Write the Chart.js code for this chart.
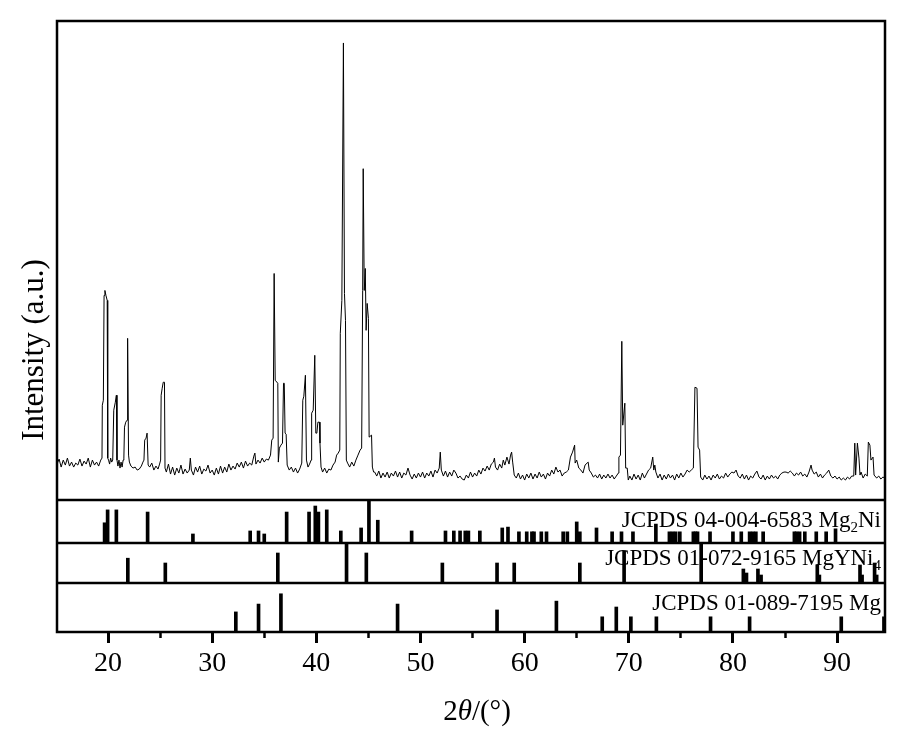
<!DOCTYPE html>
<html>
<head>
<meta charset="utf-8">
<title>XRD pattern</title>
<script src="https://cdn.jsdelivr.net/npm/chart.js@4.4.1/dist/chart.umd.min.js"></script>
<style>
  html, body { margin: 0; padding: 0; background: #fff; }
  canvas { display: block; }
</style>
</head>
<body>
<canvas id="xrd-chart" width="907" height="748"></canvas>
<script>
// measured pattern, 2theta (deg) vs counts (a.u.)
const xrdAngle = [
  15.1,15.3,15.5,15.7,15.9,16.1,16.3,16.5,16.7,16.9,17.1,17.3,17.5,17.7,17.9,18.1,18.3,18.5,18.7,18.9,19.1,19.3,
  19.42,19.45,19.55,19.62,19.7,19.8,19.92,19.97,20.05,20.15,20.25,20.35,20.45,
  20.55,20.7,20.8,20.86,20.95,21.05,21.15,21.25,21.35,21.45,21.52,21.58,21.7,21.83,21.88,21.97,22.05,
  22.2,22.4,22.6,22.8,23.0,23.2,23.35,23.45,23.52,23.65,23.75,23.8,23.85,24.0,24.2,24.4,24.6,24.8,24.95,25.05,
  25.1,25.2,25.3,25.42,25.47,25.6,25.8,26.0,26.2,26.4,26.6,26.8,27.0,27.2,27.4,27.6,27.8,27.9,28.0,
  28.2,28.4,28.6,28.8,29.0,29.2,29.4,29.6,29.8,30.0,30.2,30.4,30.6,30.8,31.0,31.2,31.4,31.6,31.8,32.0,
  32.2,32.4,32.6,32.8,33.0,33.2,33.4,33.6,33.8,34.0,34.1,34.2,34.4,34.6,34.8,35.0,35.2,35.4,35.6,
  35.72,35.85,35.95,36.05,36.3,36.35,36.45,36.6,36.75,36.85,36.92,37.0,37.1,37.2,
  37.4,37.6,37.8,38.0,38.2,38.4,38.6,38.7,38.8,38.95,39.05,39.2,39.35,
  39.5,39.55,39.7,39.85,39.95,40.05,40.15,40.3,40.35,40.45,
  40.6,40.8,41.0,41.2,41.4,41.6,41.8,41.95,42.1,42.25,
  42.3,42.45,42.6,42.7,42.8,42.88,43.0,43.2,43.4,43.6,43.8,
  44.0,44.2,44.35,44.45,44.5,44.6,44.7,44.78,44.88,45.0,45.07,45.3,45.38,45.5,
  45.6,45.8,46.0,46.2,46.4,46.6,46.8,47.0,47.2,47.4,47.6,47.8,48.0,48.2,48.4,48.6,48.8,49.0,49.2,49.4,
  49.6,49.8,50.0,50.2,50.4,50.6,50.8,51.0,51.2,51.4,51.6,51.8,51.9,52.0,52.2,52.4,52.6,52.8,53.0,53.2,
  53.4,53.6,53.8,54.0,54.2,54.4,54.6,54.8,55.0,55.2,55.4,55.6,55.8,56.0,56.2,56.4,56.6,56.8,57.0,57.1,
  57.2,57.4,57.6,57.8,57.95,58.1,58.3,58.5,58.65,58.75,58.85,59.0,59.2,59.4,59.6,59.8,60.0,60.2,60.4,60.6,
  60.8,61.0,61.2,61.4,61.6,61.8,62.0,62.2,62.4,62.6,62.8,63.0,63.2,63.4,63.6,63.8,64.0,64.2,
  64.4,64.6,64.8,64.85,65.0,65.2,65.4,65.6,65.8,66.0,66.1,66.2,66.4,66.6,66.8,67.0,67.2,67.4,67.6,67.8,
  68.0,68.2,68.4,68.6,68.8,69.0,69.05,69.2,69.33,69.42,69.62,69.7,69.85,69.95,
  70.1,70.3,70.5,70.7,70.9,71.1,71.3,71.5,71.7,71.9,72.1,72.3,72.4,72.5,72.6,72.8,73.0,73.2,73.4,73.6,
  73.8,74.0,74.2,74.4,74.6,74.8,75.0,75.2,75.4,75.6,75.8,76.0,76.2,76.35,76.55,76.65,76.8,76.9,
  77.1,77.3,77.5,77.7,77.9,78.1,78.3,78.5,78.7,78.9,79.1,79.3,79.5,79.7,79.9,80.1,80.3,80.5,80.7,80.9,
  81.1,81.3,81.5,81.7,81.9,82.1,82.3,82.5,82.7,82.9,83.1,83.3,83.5,83.7,83.9,84.1,84.3,84.5,84.7,84.9,
  85.1,85.3,85.5,85.7,85.9,86.1,86.3,86.5,86.7,86.9,87.1,87.3,87.5,87.6,87.8,88.0,88.2,88.4,88.6,88.8,
  89.0,89.2,89.4,89.6,89.8,90.0,90.2,90.4,90.6,90.8,91.0,91.2,91.4,91.6,91.7,91.78,91.95,92.1,92.2,
  92.3,92.5,92.7,92.9,93.0,93.15,93.25,93.45,93.55,93.8,94.0,94.2,94.4,94.6
];
const xrdIntensity = [
  36,41,33,40,35,42,34,38,33,37,35,41,34,39,36,42,33,40,35,38,34,40,
  42,95,100,205,210,205,200,42,40,36,42,38,40,
  90,98,105,40,34,40,32,38,33,40,42,73,78,80,162,45,38,
  34,32,33,30,31,34,38,40,60,62,67,67,35,33,37,30,34,31,36,40,
  105,112,118,118,32,28,36,26,33,25,32,27,35,26,31,27,30,42,30,
  25,33,28,34,26,31,29,35,27,30,25,32,26,34,27,33,28,36,30,34,
  31,37,33,38,32,39,34,37,35,44,47,36,40,37,42,38,41,40,45,
  60,62,227,120,117,38,52,55,57,117,117,67,66,35,
  30,33,28,32,27,31,37,100,104,125,40,33,36,
  40,87,90,145,67,67,78,78,57,33,
  28,32,27,31,30,35,38,45,47,50,
  167,200,458,207,180,40,37,33,38,34,40,
  45,50,52,210,332,210,232,170,197,182,63,65,33,28,
  28,24,29,22,27,23,28,22,27,24,29,23,28,22,27,25,32,25,21,26,
  22,27,23,28,22,27,24,29,23,30,27,32,48,30,24,29,23,28,24,30,
  27,22,24,21,20,25,22,28,23,27,24,30,26,32,29,34,30,36,38,42,
  33,30,36,32,40,35,43,36,45,48,38,25,22,27,21,25,20,26,22,27,
  21,26,22,28,23,26,21,27,24,30,26,33,28,30,24,27,28,30,
  43,48,55,37,40,32,30,27,35,37,38,30,27,23,25,22,26,21,25,22,
  26,22,25,21,24,27,43,45,159,75,97,32,32,20,
  24,20,26,21,25,20,27,22,26,30,32,43,30,35,28,22,26,20,25,21,
  26,22,25,20,26,22,27,23,26,30,28,30,32,113,112,53,50,23,
  20,25,21,24,20,25,22,26,21,24,22,27,23,26,28,27,30,24,22,26,
  21,25,20,24,22,26,29,23,21,25,20,24,21,25,22,24,21,25,27,28,
  28,27,29,27,24,27,25,28,24,26,23,28,35,30,26,28,23,26,22,25,
  27,30,24,22,24,21,23,20,22,20,23,21,24,24,57,25,57,42,25,
  28,22,26,24,58,55,40,43,25,22,24,21,23,22
];

// reference cards: peak position (deg) and relative intensity (% of panel height)
const mg2niAngle = [19.67,19.96,20.8,23.8,28.15,33.65,34.45,35.0,37.15,39.3,39.9,40.2,41.0,42.35,44.3,45.05,45.9,
  49.15,52.4,53.2,53.8,54.3,54.6,55.7,57.85,58.4,59.45,60.2,60.7,60.9,61.6,62.1,63.7,64.1,65.0,65.3,66.9,68.4,
  69.3,70.4,72.6,73.9,74.2,74.5,74.9,76.2,76.4,76.6,77.8,80.0,80.8,81.6,81.9,82.2,82.9,85.9,86.1,86.4,86.9,
  88.0,88.95,89.85];
const mg2niRel = [47,77,77,72,21,28,28,21,72,72,86,72,77,28,35,100,53,
  28,28,28,28,28,28,28,35,37,26,26,26,26,26,26,26,26,49,26,35,26,
  26,26,44,26,26,26,26,26,26,26,26,26,26,26,26,26,26,26,26,26,26,
  26,26,33];

const mgyni4Angle = [21.9,25.5,36.3,42.9,44.8,52.1,57.35,59.0,65.3,69.55,76.95,81.0,81.3,82.4,82.7,88.1,88.3,
  92.2,92.4,93.6,93.8];
const mgyni4Rel = [62,50,75,100,75,50,50,50,50,80,100,35,25,35,20,45,20,
  45,20,50,20];

const mgAngle = [32.27,34.45,36.6,47.8,57.35,63.05,67.45,68.8,70.2,72.65,77.85,81.6,90.4,94.5];
const mgRel = [41,57,78,57,45,63,31,51,31,31,31,31,31,31];

// x axis ticks (every 5 deg, labelled every 10 deg)
const xTickValues = [20, 25, 30, 35, 40, 45, 50, 55, 60, 65, 70, 75, 80, 85, 90];
const xLabelStep = 10;

const SERIF = "'Liberation Serif', 'Times New Roman', serif";

function toPoints(xs, ys) {
    return xs.map((x, i) => ({ x: x, y: ys[i] }));
}

function stickSet(label, xs, ys, axisId) {
    return {
        type: 'bar',
        label: label,
        data: toPoints(xs, ys),
        yAxisID: axisId,
        backgroundColor: '#000',
        borderWidth: 0,
        barThickness: 3,
        grouped: false
    };
}

// card labels drawn on top of each panel (runs with subscripts)
const panelLabels = [
    { axis: 'yMg2Ni', dy: 27, runs: [['JCPDS 04-004-6583 Mg', false], ['2', true], ['Ni', false]] },
    { axis: 'yMgYNi4', dy: 22, runs: [['JCPDS 01-072-9165 MgYNi', false], ['4', true]] },
    { axis: 'yMg', dy: 27, runs: [['JCPDS 01-089-7195 Mg', false]] }
];

function drawRuns(ctx, runs, right, baseline) {
    const items = runs.map(([text, sub]) => {
        ctx.font = (sub ? '15px ' : '23px ') + SERIF;
        return { text, sub, w: ctx.measureText(text).width };
    });
    let x = right - items.reduce((s, it) => s + it.w, 0);
    items.forEach(it => {
        ctx.font = (it.sub ? '15px ' : '23px ') + SERIF;
        ctx.fillText(it.text, x, baseline + (it.sub ? 5 : 0));
        x += it.w;
    });
}

const framePlugin = {
    id: 'frame',
    afterDraw(chart) {
        const { ctx, chartArea: a, scales } = chart;
        ctx.save();
        ctx.strokeStyle = '#000';
        ctx.lineWidth = 2.5;
        ctx.strokeRect(a.left, a.top, a.right - a.left, a.bottom - a.top);

        // panel separators
        ['yMg2Ni', 'yMgYNi4', 'yMg'].forEach(id => {
            const y = scales[id].top;
            ctx.beginPath();
            ctx.moveTo(a.left, y);
            ctx.lineTo(a.right, y);
            ctx.stroke();
        });

        ctx.fillStyle = '#000';
        ctx.textAlign = 'left';
        ctx.textBaseline = 'alphabetic';
        panelLabels.forEach(p => {
            drawRuns(ctx, p.runs, a.right - 4, scales[p.axis].top + p.dy);
        });

        // x title: 2θ/(°) with italic theta
        const xt = [['2', ''], ['θ', 'italic '], ['/(°)', '']];
        let w = 0;
        xt.forEach(r => { ctx.font = r[1] + '29px ' + SERIF; w += ctx.measureText(r[0]).width; });
        let x = (a.left + a.right) / 2 + 6 - w / 2;
        xt.forEach(r => {
            ctx.font = r[1] + '29px ' + SERIF;
            ctx.fillText(r[0], x, 720);
            x += ctx.measureText(r[0]).width;
        });

        // y title
        ctx.translate(35, 350);
        ctx.rotate(-Math.PI / 2);
        ctx.textAlign = 'center';
        ctx.textBaseline = 'middle';
        ctx.font = '31px ' + SERIF;
        ctx.fillText('Intensity (a.u.)', 0, 0);
        ctx.restore();
    }
};

function hiddenY(weight, max) {
    return {
        type: 'linear',
        position: 'left',
        stack: 'panels',
        stackWeight: weight,
        min: 0,
        max: max,
        display: true,
        ticks: { display: false },
        grid: { display: false, drawTicks: false },
        border: { display: false },
        title: { display: false }
    };
}

document.addEventListener('DOMContentLoaded', () => {
    const ctx = document.getElementById('xrd-chart').getContext('2d');
    new Chart(ctx, {
        type: 'line',
        data: {
            datasets: [
                {
                    label: 'Sample',
                    data: toPoints(xrdAngle, xrdIntensity),
                    yAxisID: 'yMain',
                    borderColor: '#000',
                    borderWidth: 1,
                    pointRadius: 0,
                    tension: 0,
                    fill: false
                },
                stickSet('Mg2Ni', mg2niAngle, mg2niRel, 'yMg2Ni'),
                stickSet('MgYNi4', mgyni4Angle, mgyni4Rel, 'yMgYNi4'),
                stickSet('Mg', mgAngle, mgRel, 'yMg')
            ]
        },
        options: {
            responsive: false,
            animation: false,
            events: [],
            layout: { padding: { left: 57, right: 22, top: 21, bottom: 0 } },
            plugins: {
                legend: { display: false },
                tooltip: { enabled: false }
            },
            scales: {
                // left stacks are laid out last-first, so the main panel goes last
                yMg: hiddenY(49, 100),
                yMgYNi4: hiddenY(40, 100),
                yMg2Ni: hiddenY(43, 100),
                yMain: hiddenY(479, 480),
                x: {
                    type: 'linear',
                    position: 'bottom',
                    min: 15.1,
                    max: 94.6,
                    offset: false,
                    border: { display: false },
                    grid: {
                        display: true,
                        offset: false,
                        drawOnChartArea: false,
                        drawTicks: true,
                        tickLength: 11,
                        tickColor: '#000',
                        tickWidth: c => (c.tick && c.tick.value % xLabelStep === 0 ? 3 : 2.5),
                        tickBorderDash: c => (c.tick && c.tick.value % xLabelStep === 0 ? [] : [6, 30])
                    },
                    ticks: {
                        autoSkip: false,
                        maxRotation: 0,
                        padding: 4,
                        color: '#000',
                        font: { family: SERIF, size: 28 },
                        callback: v => (v % xLabelStep === 0 ? v : '')
                    },
                    afterBuildTicks: s => { s.ticks = xTickValues.map(v => ({ value: v })); },
                    afterFit: s => { s.height = 116; }
                }
            }
        },
        plugins: [framePlugin]
    });
});
</script>
</body>
</html>
